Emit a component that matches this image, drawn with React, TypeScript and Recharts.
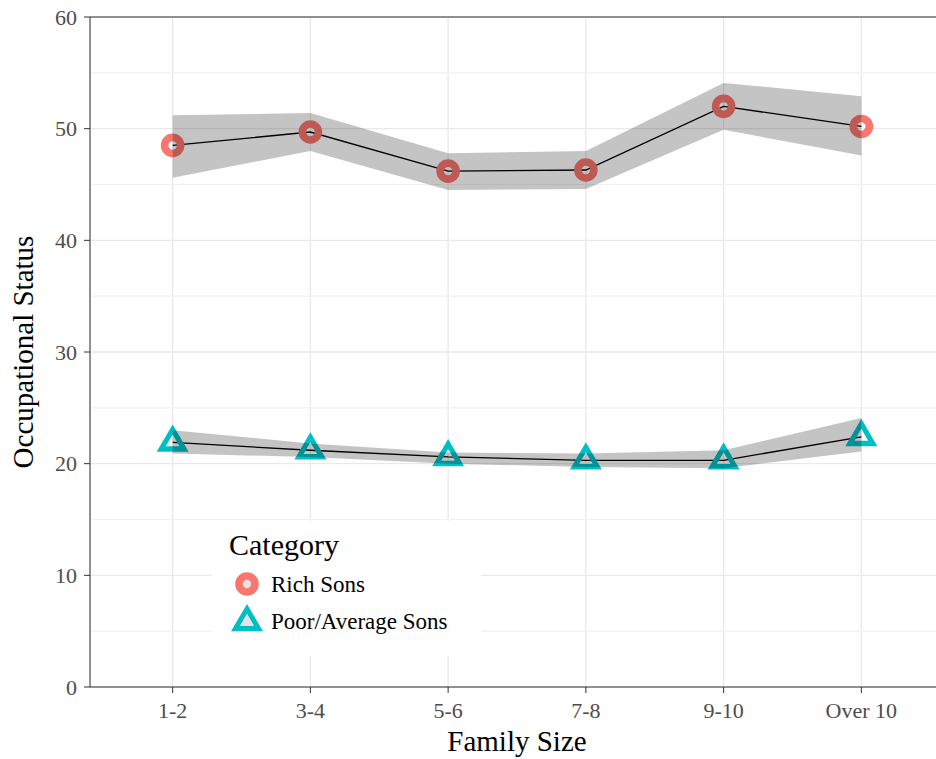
import React from 'react';
import { ComposedChart, Line, Area, XAxis, YAxis, CartesianGrid, ReferenceLine, Label } from 'recharts';

const familySizes = ['1-2', '3-4', '5-6', '7-8', '9-10', 'Over 10'];
const richMean = [48.5, 49.7, 46.2, 46.3, 52.0, 50.2];
const richLow = [45.6, 48.0, 44.5, 44.6, 49.9, 47.6];
const richHigh = [51.2, 51.4, 47.8, 48.0, 54.1, 52.9];
const poorMean = [21.9, 21.2, 20.6, 20.3, 20.3, 22.4];
const poorLow = [20.9, 20.6, 20.0, 19.7, 19.6, 21.1];
const poorHigh = [23.0, 21.8, 21.0, 20.9, 21.2, 24.1];
const yTicks = [0, 10, 20, 30, 40, 50, 60];
const minorTicks = [5, 15, 25, 35, 45, 55];

const RICH = '#F8766D';
const POOR = '#00BFC4';
const FONT = 'Liberation Serif, DejaVu Serif, serif';

const data = familySizes.map((name, i) => ({
  idx: i,
  name,
  rich: richMean[i],
  richBand: [richLow[i], richHigh[i]],
  poor: poorMean[i],
  poorBand: [poorLow[i], poorHigh[i]],
}));

const trianglePath = (cx: number, cy: number) =>
  `M${cx},${cy - 18} L${cx + 16},${cy + 9.3} L${cx - 16},${cy + 9.3} Z ` +
  `M${cx},${cy - 8} L${cx - 6.8},${cy + 3.8} L${cx + 6.8},${cy + 3.8} Z`;

const RichDot = (p: any) => (
  <circle cx={p.cx} cy={p.cy} r={8} fill="none" stroke={RICH} strokeWidth={7.6} />
);

const PoorDot = (p: any) => (
  <path d={trianglePath(p.cx, p.cy)} fill={POOR} fillRule="evenodd" />
);

// legend box drawn over the panel like ggplot's inside legend
const LegendBox = () => (
  <div style={{ position: 'absolute', left: 212, top: 521, width: 269, height: 135, background: '#fff' }}>
    <svg width={269} height={135} style={{ fontFamily: FONT }}>
      <text x={17} y={34} fontSize={30} fill="#000" style={{ fontFamily: FONT }}>Category</text>
      <circle cx={35} cy={63} r={8} fill="#e3e3e3" stroke={RICH} strokeWidth={7.6} />
      <text x={59} y={71} fontSize={23} fill="#000" style={{ fontFamily: FONT }}>Rich Sons</text>
      <path d={trianglePath(35, 101)} fill={POOR} fillRule="evenodd" />
      <path d={`M35,93 L28.2,104.8 L41.8,104.8 Z`} fill="#e3e3e3" />
      <text x={59} y={108} fontSize={23} fill="#000" style={{ fontFamily: FONT }}>Poor/Average Sons</text>
    </svg>
  </div>
);

const tickStyle = { fill: '#4d4d4d', fontSize: 22, fontFamily: FONT, style: { fontFamily: FONT } };

export default function App() {
  return (
    <div style={{ position: 'absolute', left: 0, top: 0, width: 936, height: 759, overflow: 'hidden', background: '#fff', fontFamily: FONT }}>
      <ComposedChart width={944} height={759} data={data} margin={{ top: 17, right: 0, bottom: 0, left: 0 }} style={{ fontFamily: FONT }}>
        <CartesianGrid stroke="#e9e9e9" strokeWidth={1.3} />
        {minorTicks.map((v) => (
          <ReferenceLine key={v} y={v} stroke="#f1f1f1" strokeWidth={1.1} />
        ))}
        <ReferenceLine y={60} stroke="#333" strokeWidth={1.1} />
        <XAxis
          type="number"
          dataKey="idx"
          domain={[-0.6, 5.6]}
          ticks={[0, 1, 2, 3, 4, 5]}
          tickFormatter={(i: number) => familySizes[i]}
          height={72}
          stroke="#333"
          tickSize={6}
          tickMargin={9}
          tick={tickStyle}
        >
          <Label
            content={() => (
              <text x={517} y={751} textAnchor="middle" fontSize={29} fill="#000" style={{ fontFamily: FONT }}>
                Family Size
              </text>
            )}
          />
        </XAxis>
        <YAxis
          type="number"
          domain={[0, 60]}
          ticks={yTicks}
          width={90}
          stroke="#333"
          tickSize={6}
          tickMargin={7}
          tick={tickStyle}
        >
          <Label
            content={() => (
              <text
                x={33}
                y={352}
                textAnchor="middle"
                transform="rotate(-90, 33, 352)"
                fontSize={29}
                fill="#000"
                style={{ fontFamily: FONT }}
              >
                Occupational Status
              </text>
            )}
          />
        </YAxis>
        <Line dataKey="rich" stroke="#000" strokeWidth={1.3} dot={(p: any) => <RichDot key={`r${p.index}`} {...p} />} isAnimationActive={false} />
        <Line dataKey="poor" stroke="#000" strokeWidth={1.3} dot={(p: any) => <PoorDot key={`p${p.index}`} {...p} />} isAnimationActive={false} />
        <Area {...({ zIndex: 900 } as any)} dataKey="richBand" stroke="none" fill="#000" fillOpacity={0.23} isAnimationActive={false} />
        <Area {...({ zIndex: 900 } as any)} dataKey="poorBand" stroke="none" fill="#000" fillOpacity={0.23} isAnimationActive={false} />
      </ComposedChart>
      <LegendBox />
    </div>
  );
}
